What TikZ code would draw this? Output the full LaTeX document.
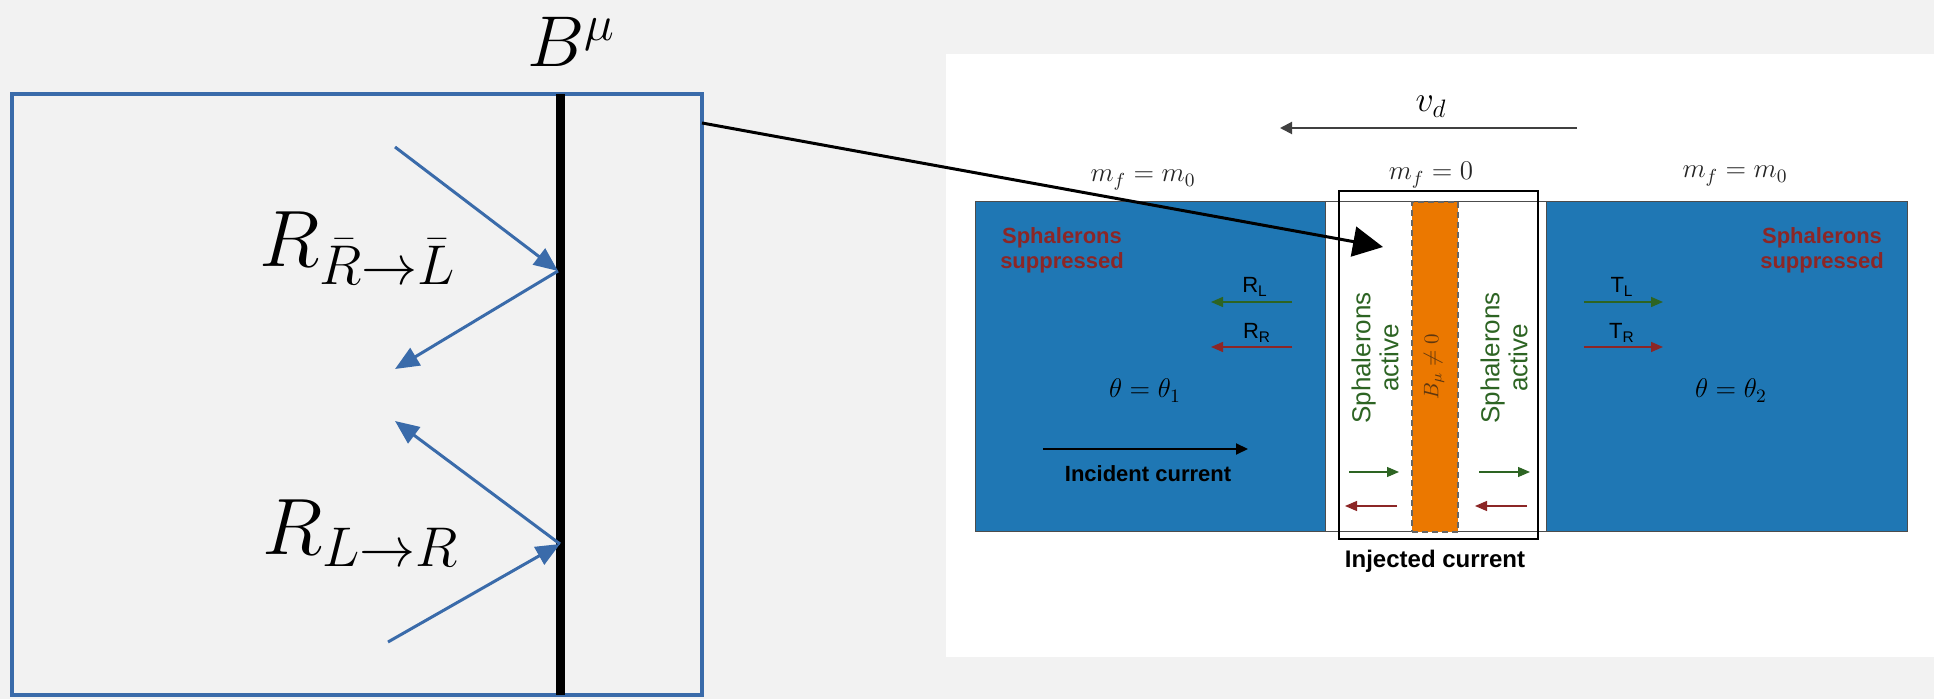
\RequirePackage{fix-cm}
\documentclass[tikz,border=0pt]{standalone}
\usepackage{fontspec}
\setsansfont{Liberation Sans}
\usetikzlibrary{arrows.meta}
\definecolor{bg}{RGB}{242,242,242}
\definecolor{boxblue}{RGB}{58,107,170}
\definecolor{mplblue}{RGB}{31,119,180}
\definecolor{mplorange}{RGB}{235,120,0}
\definecolor{sgreen}{RGB}{45,100,35}
\definecolor{sred}{RGB}{140,38,38}
\definecolor{bmu}{RGB}{95,55,15}
\begin{document}
\begin{tikzpicture}[x=0.5pt,y=-0.5pt,
  region/.style={inner sep=0pt, outer sep=0pt, anchor=north west},
  bluearrow/.style={draw=boxblue, line width=1.5pt, -{Triangle[length=12pt,width=10pt]}},
  smallarrow/.style={line width=0.75pt, -{Triangle[length=6pt,width=5pt]}},
  sanslbl/.style={font=\sffamily\fontsize{11}{12.5}\selectfont, inner sep=0pt},
  boldlbl/.style={font=\sffamily\bfseries\fontsize{11}{12.5}\selectfont, inner sep=0pt},
  supplbl/.style={font=\sffamily\bfseries\fontsize{11}{12.5}\selectfont, text=sred, align=center, inner sep=0pt},
  activelbl/.style={font=\sffamily\fontsize{13}{14}\selectfont, text=sgreen, align=center, rotate=90, inner sep=0pt},
  mathlbl/.style={font=\fontsize{13.5}{16}\selectfont, inner sep=0pt, anchor=base},
  biglbl/.style={font=\fontsize{40}{44}\selectfont, inner sep=0pt, anchor=base west}
]
\fill[bg] (0,0) rectangle (1934,699);
\useasboundingbox (0,0) rectangle (1934,699);

% ---------- left panel ----------
\node (lbox) [region, draw=boxblue, line width=2pt, fill=bg, minimum width=345pt, minimum height=300.5pt] at (12,94) {};
\coordinate (wtop) at (560,94);
\coordinate (wbot) at (560,695);
\draw[line width=4.5pt] (wtop) -- (wbot);
\node (bmu) [font=\fontsize{36}{40}\selectfont, inner sep=0pt, anchor=base west] at (527,67) {$B^{\mu}$};

\coordinate (a1) at (395,147);
\coordinate (h1) at (558,271);
\coordinate (a2) at (395,369);
\coordinate (a3) at (395,421);
\coordinate (h2) at (560,544);
\coordinate (a4) at (388,642);
\draw[bluearrow] (a1) -- (h1);
\draw[bluearrow] (h1) -- (a2);
\draw[bluearrow] (h2) -- (a3);
\draw[bluearrow] (a4) -- (h2);
\node (rrl) [biglbl] at (259,267) {$R_{\bar R\to\bar L}$};
\node (rlr) [biglbl] at (262,555) {$R_{L\to R}$};

% ---------- right panel ----------
\node (panel) [region, fill=white, minimum width=494pt, minimum height=301.5pt] at (946,54) {};
\node (lblue) [region, fill=mplblue, draw=black!70, line width=0.5pt, minimum width=175pt, minimum height=165pt] at (975,202) {};
\node (rblue) [region, fill=mplblue, draw=black!70, line width=0.5pt, minimum width=180.5pt, minimum height=165pt] at (1546,202) {};
\draw[black!70, line width=0.5pt] (lblue.north east) -- (rblue.north west);
\draw[black!70, line width=0.5pt] (lblue.south east) -- (rblue.south west);
\node (orng) [region, fill=mplorange, draw=black!60, dashed, dash pattern=on 3pt off 2pt, line width=0.8pt, minimum width=23pt, minimum height=165pt] at (1412,202) {};
\node (inj) [region, draw=black, line width=1.2pt, minimum width=99.5pt, minimum height=174pt] at (1339,191) {};

% velocity
\node (vd) [font=\fontsize{18}{20}\selectfont, inner sep=0pt, anchor=base] at (1431,112) {$v_d$};
\coordinate (vs) at (1577,128);
\coordinate (ve) at (1280,128);
\draw[black!75, line width=1pt, -{Triangle[length=6pt,width=6pt]}] (vs) -- (ve);

% masses
\node (m1) [mathlbl, text=black!85] at (1143,182) {$m_f = m_0$};
\node (m2) [mathlbl, text=black!85] at (1431,180) {$m_f = 0$};
\node (m3) [mathlbl, text=black!85] at (1735,178) {$m_f = m_0$};

% sphalerons suppressed
\node (sup1) [supplbl] at (1062,250) {Sphalerons\\suppressed};
\node (sup2) [supplbl] at (1822,250) {Sphalerons\\suppressed};

% reflected / transmitted
\node (rl) [sanslbl, anchor=base] at (1255,293) {R\textsubscript{L}};
\node (rr) [sanslbl, anchor=base] at (1257,339) {R\textsubscript{R}};
\node (tl) [sanslbl, anchor=base] at (1622,293) {T\textsubscript{L}};
\node (tr) [sanslbl, anchor=base] at (1622,339) {T\textsubscript{R}};
\coordinate (rls) at (1292,302); \coordinate (rle) at (1211,302);
\coordinate (rrs) at (1292,347); \coordinate (rre) at (1211,347);
\coordinate (tls) at (1584,302); \coordinate (tle) at (1663,302);
\coordinate (trs) at (1584,347); \coordinate (tre) at (1663,347);
\draw[smallarrow, sgreen] (rls) -- (rle);
\draw[smallarrow, sred] (rrs) -- (rre);
\draw[smallarrow, sgreen] (tls) -- (tle);
\draw[smallarrow, sred] (trs) -- (tre);

% theta
\node (th1) [mathlbl] at (1145,398) {$\theta = \theta_1$};
\node (th2) [mathlbl] at (1731,398) {$\theta = \theta_2$};

% incident current
\coordinate (ics) at (1043,449);
\coordinate (ice) at (1248,449);
\draw[black, line width=1pt, -{Triangle[length=6pt,width=5.5pt]}] (ics) -- (ice);
\node (inc) [boldlbl, anchor=base] at (1148,482) {Incident current};

% strip texts
\node (act1) [activelbl] at (1375,358) {Sphalerons\\active};
\node (act2) [activelbl] at (1504,358) {Sphalerons\\active};
\node (bnz) [font=\fontsize{10.5}{12}\selectfont, text=bmu, rotate=90, inner sep=0pt] at (1434,367) {$B_\mu \neq 0$};

% strip arrows
\coordinate (g1s) at (1349,472); \coordinate (g1e) at (1399,472);
\coordinate (r1s) at (1397,506); \coordinate (r1e) at (1345,506);
\coordinate (g2s) at (1479,472); \coordinate (g2e) at (1530,472);
\coordinate (r2s) at (1527,506); \coordinate (r2e) at (1475,506);
\draw[smallarrow, sgreen, line width=0.6pt] (g1s) -- (g1e);
\draw[smallarrow, sred, line width=0.6pt] (r1s) -- (r1e);
\draw[smallarrow, sgreen, line width=0.6pt] (g2s) -- (g2e);
\draw[smallarrow, sred, line width=0.6pt] (r2s) -- (r2e);

\node (injl) [font=\sffamily\bfseries\fontsize{12}{14}\selectfont, inner sep=0pt, anchor=base] at (1435,568) {Injected current};

% connecting arrow
\coordinate (cs) at (lbox.east |- 0,123);
\coordinate (ce) at (1383,247);
\draw[black, line width=1.5pt, -{Triangle[length=15pt,width=15pt]}] (cs) -- (ce);
\end{tikzpicture}
\end{document}
